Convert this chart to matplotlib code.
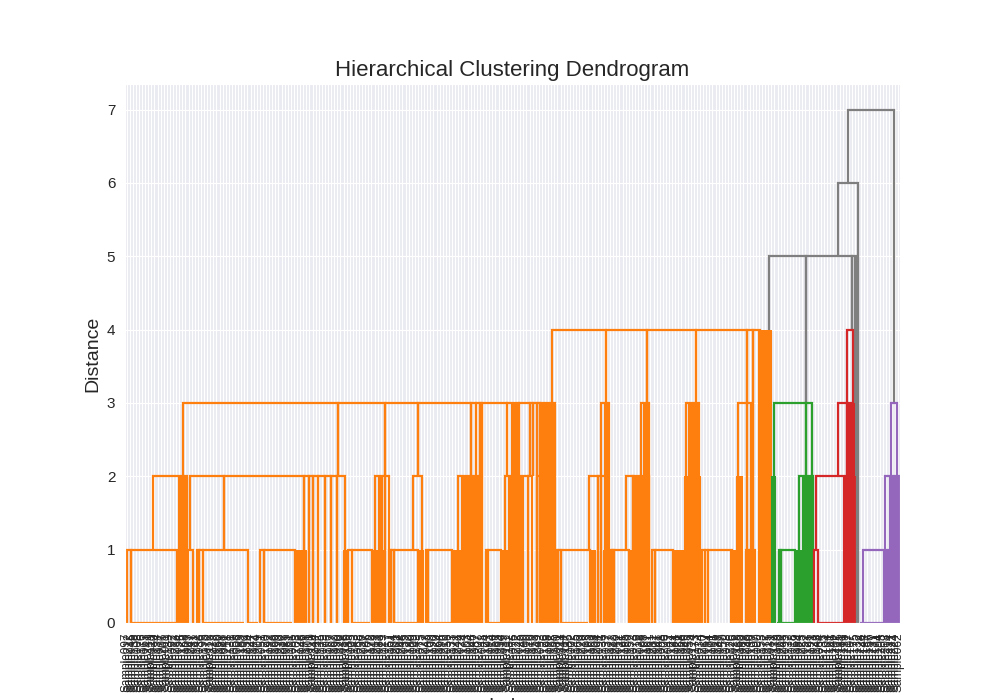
import numpy as np
import matplotlib
matplotlib.use("Agg")
import matplotlib.pyplot as plt
import seaborn as sns

cluster_colors = ["#7f7f7f", "#ff7f0e", "#2ca02c", "#d62728", "#9467bd"]

# combs: links at one height, with leg positions in leaf units and leg foot heights
comb_heights = [7, 6, 5,
                4, 3, 3, 3, 3, 3,
                2, 2, 2, 2, 2, 2, 2, 2, 2,
                1, 1, 1, 1, 1, 1, 1, 1, 1, 1, 1, 1, 1,
                0, 0, 0, 0, 0, 0, 0, 0, 0, 0,
                3, 2, 1, 0,
                4, 3, 2, 1, 0,
                3, 2, 1, 0]
comb_clusters = [0, 0, 0,
                 1, 1, 1, 1, 1, 1,
                 1, 1, 1, 1, 1, 1, 1, 1, 1,
                 1, 1, 1, 1, 1, 1, 1, 1, 1, 1, 1, 1, 1,
                 1, 1, 1, 1, 1, 1, 1, 1, 1, 1,
                 2, 2, 2, 2,
                 3, 3, 3, 3, 3,
                 4, 4, 4, 4]
comb_legs = [
    [232.7, 247.6], [229.5, 235.9], [207.2, 219.2, 234.0, 235.6],
    [137.2, 154.7, 167.9, 183.7, 200.1, 202.0, 204.3],
    [18.2, 68.2, 83.4, 94.0, 111.1, 112.7, 114.0, 114.7, 122.6, 126.6, 130.0, 131.0, 132.4, 133.5, 138.2],
    [153.0, 154.7, 155.6], [165.9, 168.6], [180.5, 184.7], [197.2, 200.1, 201.4],
    [8.5, 18.2, 19.5],
    [20.6, 31.4, 57.2, 58.8, 60.1, 61.8, 64.0, 65.9, 67.9, 70.5],
    [80.1, 83.4, 84.7], [92.4, 95.3], [106.9, 114.0], [122.1, 129.5, 130.8], [132.4, 133.5],
    [149.2, 152.0, 153.2, 155.2], [161.1, 163.4, 168.6],
    [0.1, 1.3, 16.3], [19.8, 21.4], [22.7, 23.4, 24.7, 39.2], [43.0, 44.3, 54.3],
    [71.4, 72.7, 79.2], [84.7, 85.3, 86.3, 94.0], [96.6, 97.2, 105.0], [116.0, 116.6, 120.8],
    [138.2, 139.3, 140.1, 149.5], [156.3, 156.6, 157.2, 162.1], [169.5, 170.5, 176.3],
    [185.7, 186.6, 187.6, 195.3], [199.8, 201.0, 202.0, 202.7],
    [1.3, 16.0], [22.7, 23.4], [24.7, 37.9], [39.0, 42.4], [44.3, 53.5], [72.7, 78.5],
    [86.0, 93.7], [97.2, 104.7], [116.6, 120.5], [140.1, 149.0],
    [208.8, 219.2, 221.1], [216.9, 221.4], [210.5, 211.1, 215.6], [209.8, 215.3],
    [232.4, 234.3], [229.5, 232.4, 234.0], [222.4, 232.4], [221.8, 223.0], [223.0, 231.1],
    [246.6, 248.5], [244.7, 249.2], [237.5, 246.3], [236.6, 244.2],
]
comb_feet = [
    [6, 3], [5, 0], [4, 3, 4, 0],
    [3, 3, 3, 3, 3, 1, 0],
    [2, 2, 2, 2, 2, 2, 2, 0, 2, 2, 2, 2, 0, 0, 0],
    [2, 0, 0], [2, 0], [2, 0], [2, 1, 0],
    [1, 0, 0],
    [1, 1, 1, 0, 0, 0, 0, 0, 0, 0],
    [1, 0, 0], [1, 0], [1, 0], [1, 0, 0], [0, 0],
    [1, 0, 0, 0], [1, 1, 0],
    [0, 0, 0], [0, 0], [0, 0, 0, 0], [0, 0, 0],
    [0, 0, 0], [0, 0, 0, 0], [0, 0, 0], [0, 0, 0],
    [0, 0, 0, 0], [0, 0, 0, 0], [0, 0, 0],
    [0, 0, 0, 0], [0, 0, 0, 0],
    [0, 0], [0, 0], [0, 0], [0, 0], [0, 0], [0, 0],
    [0, 0], [0, 0], [0, 0], [0, 0],
    [2, 2, 0], [1, 0], [0, 0, 0], [0, 0],
    [3, 3], [2, 0, 0], [1, 0], [0, 0], [0, 0],
    [2, 2], [1, 0], [0, 0], [0, 0],
]

# tightly packed merges: leaf span, top height, cluster
dense_from = [235.0,
              16.3, 16.9, 54.3, 70.2, 79.2, 81.4, 94.0, 105.0, 108.2, 120.8, 123.4,
              134.0, 134.0, 149.5, 154.0, 154.4, 162.1, 163.4, 165.6, 166.9, 176.3,
              180.1, 181.4, 195.0, 196.9, 199.8, 204.0, 124.3,
              208.2, 215.6, 218.2,
              231.4, 232.7,
              244.4, 246.3]
dense_to = [236.3,
            19.5, 19.5, 58.2, 71.4, 82.7, 82.7, 95.6, 114.3, 114.0, 128.2, 128.2,
            138.9, 138.2, 151.4, 156.3, 155.6, 165.3, 165.3, 168.6, 168.6, 185.7,
            185.3, 184.7, 198.8, 198.8, 202.0, 208.2, 126.3,
            209.5, 221.4, 221.4,
            235.0, 235.0,
            249.5, 249.5]
dense_top = [5,
             1, 2, 1, 1, 1, 2, 1, 1, 2, 1, 2,
             1, 3, 1, 1, 3, 1, 2, 2, 3, 1,
             2, 3, 1, 2, 1, 4, 3,
             2, 1, 2,
             2, 3,
             1, 2]
dense_cluster = [0] + [1] * 28 + [2] * 3 + [3] * 2 + [4] * 2

sample_ids = [
    97, 212, 45, 138, 8, 176, 63, 241, 119, 30, 154, 77, 206, 11, 189, 92, 233, 54, 125, 168,
    3, 247, 81, 142, 36, 199, 70, 113, 225, 16, 160, 88, 41, 218, 131, 59, 6, 183, 102, 239,
    24, 147, 74, 209, 51, 120, 192, 33, 166, 99, 230, 13, 85, 151, 66, 203, 128, 46, 178, 1,
    110, 244, 22, 135, 79, 196, 57, 162, 90, 220, 38, 116, 185, 5, 143, 68, 236, 27, 106, 172,
    49, 213, 83, 129, 17, 157, 94, 201, 62, 248, 35, 122, 180, 9, 149, 75, 227, 43, 109, 190,
    20, 164, 96, 216, 56, 133, 71, 242, 29, 174, 103, 4, 146, 87, 207, 48, 124, 193, 14, 159,
    65, 234, 39, 111, 182, 76, 222, 25, 140, 100, 10, 170, 53, 249, 93, 126, 198, 32, 155, 80,
    211, 44, 117, 186, 2, 145, 69, 229, 19, 105, 163, 58, 204, 91, 136, 37, 177, 82, 240, 12,
    121, 195, 50, 152, 73, 219, 28, 108, 167, 61, 231, 7, 141, 98, 200, 42, 127, 184, 21, 158,
    86, 245, 55, 114, 173, 34, 210, 67, 134, 101, 15, 188, 47, 150, 78, 226, 26, 118, 165, 89,
    238, 40, 130, 197, 0, 153, 72, 215, 31, 112, 179, 60, 243, 95, 137, 18, 169, 84, 223, 52,
    123, 191, 23, 148, 64, 235, 104, 161, 146, 202, 115, 181, 139, 217, 107, 175, 132, 228, 144, 187,
    156, 237, 171, 194, 205, 208, 214, 221, 224, 62,
]

sns.set_style("darkgrid")
plt.rcParams["font.family"] = ["Liberation Sans", "DejaVu Sans"]

fig, ax = plt.subplots(figsize=(10, 7), dpi=100)

for start, end, top, cl in zip(dense_from, dense_to, dense_top, dense_cluster):
    xs = np.arange(start, end + 0.01, 0.5)
    ax.vlines(xs, 0, top, color=cluster_colors[cl], linewidth=1.5)

for h, cl, legs, feet in zip(comb_heights, comb_clusters, comb_legs, comb_feet):
    for i in range(len(legs) - 1):
        ax.plot([legs[i], legs[i], legs[i + 1], legs[i + 1]],
                [feet[i], h, h, feet[i + 1]],
                color=cluster_colors[cl], linewidth=1.6,
                solid_joinstyle="miter", solid_capstyle="butt")

n_leaves = len(sample_ids)
ax.set_xlim(-0.5, n_leaves - 0.5)
ax.set_ylim(0, 7.35)
ax.set_xticks(np.arange(n_leaves))
ax.set_xticklabels([f"Sample{i:03d}" for i in sample_ids], rotation=90, fontsize=8.5)
ax.tick_params(axis="y", labelsize=11)
ax.set_title("Hierarchical Clustering Dendrogram", fontsize=16)
ax.set_ylabel("Distance", fontsize=14)
ax.set_xlabel("Index", fontsize=14)

fig.savefig("out.png", dpi=100)
